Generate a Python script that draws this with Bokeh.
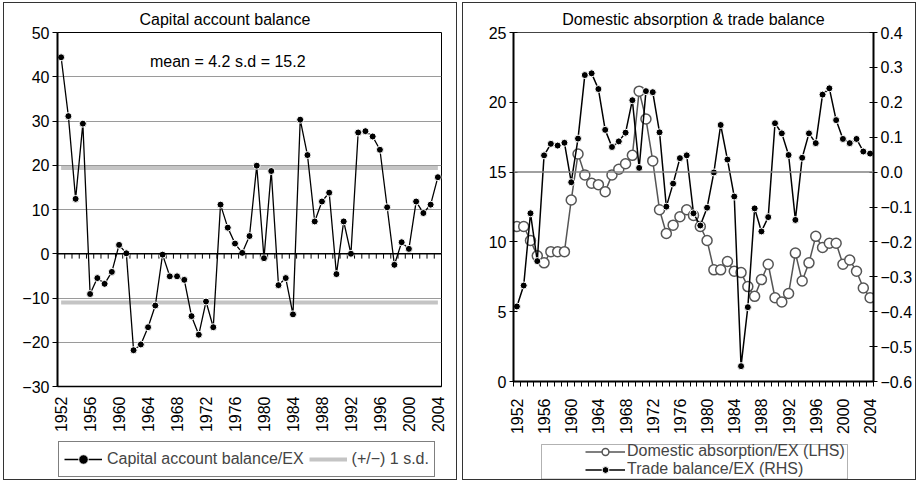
import math
from bokeh.plotting import figure
from bokeh.layouts import row, column
from bokeh.models import (Range1d, LinearAxis, FixedTicker, Span, Label, Legend,
                          LegendItem, CustomJSTickFormatter, BoxAnnotation)
from bokeh.embed import file_html
from bokeh.resources import INLINE

# ---------------- data ----------------
years = list(range(1952, 2005))

capital_balance = [44.4, 31.1, 12.4, 29.4, -9.1, -5.5, -6.8, -4.1, 2.0, 0.1,
                   -21.8, -20.5, -16.6, -11.7, -0.2, -5.1, -5.1, -5.9,
                   -14.1, -18.3, -10.8, -16.6, 11.1, 5.9, 2.3, 0.2, 4.0, 19.9,
                   -1.0, 18.7, -7.1, -5.5, -13.7, 30.3, 22.3,
                   7.3, 11.8, 13.8, -4.6, 7.3, 0.0, 27.4, 27.7, 26.5, 23.5,
                   10.5, -2.5, 2.6, 1.1, 11.8, 9.2, 11.1, 17.3]

domestic_absorption = [11.1, 11.1, 10.1, 9.0, 8.5, 9.3, 9.3, 9.3, 13.0, 16.3,
                       14.8, 14.2, 14.1, 13.6, 14.8, 15.2, 15.6, 16.2,
                       20.8, 18.8, 15.8, 12.3, 10.6, 11.2, 11.8, 12.3, 11.9,
                       11.1, 10.1, 8.0, 8.0, 8.6, 7.9, 7.8, 6.8, 6.1,
                       7.3, 8.4, 6.0, 5.7, 6.3, 9.2, 7.2, 8.5, 10.4, 9.6,
                       9.9, 9.9, 8.4, 8.7, 7.9, 6.7, 6.0]

trade_balance = [-0.385, -0.325, -0.118, -0.255, 0.048, 0.081, 0.076, 0.084,
                 -0.029, 0.096, 0.278, 0.283, 0.238, 0.121, 0.072, 0.088,
                 0.113, 0.206,
                 0.012, 0.232, 0.229, 0.114, -0.099, -0.033, 0.040, 0.048,
                 -0.118, -0.153, -0.102, -0.001, 0.135, 0.036, -0.070,
                 -0.556, -0.387, -0.104,
                 -0.170, -0.129, 0.140, 0.111, 0.049, -0.137, 0.041, 0.111,
                 0.083, 0.222, 0.240, 0.149, 0.095, 0.083, 0.095, 0.059, 0.053]

cap_mean = 4.2
cap_sd = 15.2

year_ticks = list(range(1952, 2005, 4))
cap_ticks = [-30, -20, -10, 0, 10, 20, 30, 40, 50]
abs_ticks = [0, 5, 10, 15, 20, 25]
trade_ticks = [-0.6, -0.5, -0.4, -0.3, -0.2, -0.1, 0.0, 0.1, 0.2, 0.3, 0.4]
abs_zero_ref = 15  # LHS value aligned with trade balance = 0

# ---------------- style ----------------
FONT = "Liberation Sans"
TICK_FS = "16px"
W = 452
H_MAIN = 434
H_LEG = 42
boundaries = [y - 0.5 for y in years] + [years[-1] + 0.5]

int_fmt = CustomJSTickFormatter(
    code="return tick < 0 ? '\\u2212' + Math.abs(tick).toFixed(0) : tick.toFixed(0);")
dec_fmt = CustomJSTickFormatter(
    code="const v = Math.round(tick*10)/10; return v < -1e-9 ? '\\u2212' + Math.abs(v).toFixed(1) : Math.abs(v).toFixed(1);")


def base_fig(title, y_range, mbl, mbr, mbt, mbb):
    p = figure(width=W, height=H_MAIN,
               x_range=Range1d(years[0] - 0.5, years[-1] + 0.5),
               y_range=y_range, title=title,
               output_backend="svg", toolbar_location=None,
               min_border_left=mbl, min_border_right=mbr,
               min_border_top=mbt, min_border_bottom=mbb)
    p.background_fill_color = "white"
    p.border_fill_color = "white"
    p.outline_line_color = "black"
    p.outline_line_width = 1
    p.title.text_font = FONT
    p.title.text_font_size = "16px"
    p.title.text_font_style = "normal"
    p.title.text_color = "black"
    return p


def legend_fig(frame_left, frame_right):
    # legend strip whose frame matches the chart frame above it;
    # its x range is expressed in canvas pixels so key boxes can be placed exactly
    f = figure(width=W, height=H_LEG, x_range=Range1d(frame_left, frame_right),
               y_range=Range1d(0, H_LEG),
               x_axis_type=None, y_axis_type=None, output_backend="svg",
               toolbar_location=None, min_border_left=frame_left,
               min_border_right=W - frame_right, min_border_top=0, min_border_bottom=0)
    f.grid.visible = False
    f.outline_line_color = None
    f.background_fill_color = "white"
    f.border_fill_color = "white"
    return f


def style_axis(ax):
    ax.major_label_text_font = FONT
    ax.major_label_text_font_size = TICK_FS
    ax.major_label_text_color = "black"
    ax.axis_line_color = "black"


# ================= left panel =================
L1, R1 = 53, 15
p1 = base_fig("Capital account balance", Range1d(cap_ticks[0], cap_ticks[-1]),
              L1, R1, 29, 51)
p1.title.align = "left"
p1.title.offset = 82
p1.xgrid.visible = False
p1.ygrid.ticker = FixedTicker(ticks=cap_ticks)
p1.ygrid.grid_line_color = "#9a9a9a"
p1.ygrid.grid_line_width = 1

ya = p1.yaxis[0]
ya.ticker = FixedTicker(ticks=cap_ticks)
ya.formatter = int_fmt
ya.major_tick_out = 5
ya.major_tick_in = 0
ya.minor_tick_line_color = None
ya.axis_line_width = 2
ya.major_label_standoff = 3
style_axis(ya)

xa = p1.xaxis[0]
xa.ticker = FixedTicker(ticks=year_ticks)
xa.major_label_orientation = math.pi / 2
xa.major_tick_out = 0
xa.major_tick_in = 0
xa.major_tick_line_color = None
xa.minor_tick_line_color = None
xa.axis_line_width = 1.5
xa.major_label_standoff = 10
style_axis(xa)

p1.segment(x0=[years[0], years[0]], x1=[years[-1], years[-1]],
           y0=[cap_mean + cap_sd, cap_mean - cap_sd],
           y1=[cap_mean + cap_sd, cap_mean - cap_sd],
           line_color="#c4c4c4", line_width=4)
p1.add_layout(Span(location=0, dimension="width", line_color="black", line_width=1.5))
p1.segment(x0=boundaries, x1=boundaries, y0=[0] * len(boundaries),
           y1=[-1.1] * len(boundaries), line_color="black", line_width=1)
p1.line(years, capital_balance, line_color="black", line_width=1.3)
p1.scatter(years, capital_balance, size=7, fill_color="black",
           line_color="white", line_width=1)

p1.add_layout(Label(x=1975, y=43.5, text=f"mean = {cap_mean} s.d = {cap_sd}",
                    text_align="center", text_baseline="middle",
                    text_font=FONT, text_font_size="16px", text_color="black"))

# legend strip for left panel (key glyphs get one data point lying outside the strip's range)
lf1 = legend_fig(L1, W - R1)
k_cap_line = lf1.line(x=years[:1], y=capital_balance[:1], line_color="black", line_width=1.3)
k_cap_pts = lf1.scatter(x=years[:1], y=capital_balance[:1], size=7, fill_color="black",
                        line_color="white", line_width=1)
k_sd = lf1.segment(x0=years[:1], y0=[cap_mean + cap_sd], x1=years[-1:], y1=[cap_mean + cap_sd],
                   line_color="#c4c4c4", line_width=4)
leg1 = Legend(items=[LegendItem(label="Capital account balance/EX", renderers=[k_cap_line, k_cap_pts]),
                     LegendItem(label="(+/\u2212) 1 s.d.", renderers=[k_sd])],
              orientation="horizontal", location=(1, 2), margin=0, padding=5,
              spacing=5, glyph_width=38, glyph_height=24, label_height=24,
              label_standoff=5, label_text_font=FONT, label_text_font_size="16px",
              border_line_color="black", border_line_width=1,
              background_fill_color="white", background_fill_alpha=1)
lf1.add_layout(leg1)

# ================= right panel =================
L2, R2 = 50, 42
p2 = base_fig("Domestic absorption & trade balance", Range1d(abs_ticks[0], abs_ticks[-1]),
              L2, R2, 29, 50)
p2.title.align = "center"
p2.grid.visible = False
p2.outline_line_color = "#444444"
p2.extra_y_ranges = {"tb": Range1d(trade_ticks[0], trade_ticks[-1])}

la = p2.yaxis[0]
la.ticker = FixedTicker(ticks=abs_ticks)
la.formatter = int_fmt
la.major_tick_out = 4
la.major_tick_in = 4
la.minor_tick_line_color = None
la.axis_line_width = 2
la.major_label_standoff = 3
style_axis(la)

ra = LinearAxis(y_range_name="tb", ticker=FixedTicker(ticks=trade_ticks),
                formatter=dec_fmt)
ra.major_tick_out = 4
ra.major_tick_in = 4
ra.minor_tick_line_color = None
ra.axis_line_width = 2
ra.major_label_standoff = 3
style_axis(ra)
p2.add_layout(ra, "right")

xb = p2.xaxis[0]
xb.ticker = FixedTicker(ticks=year_ticks, minor_ticks=boundaries)
xb.major_label_orientation = math.pi / 2
xb.major_tick_out = 0
xb.major_tick_in = 0
xb.major_tick_line_color = None
xb.minor_tick_out = 5
xb.minor_tick_in = 0
xb.minor_tick_line_color = "black"
xb.axis_line_width = 2
xb.major_label_standoff = 12
style_axis(xb)

p2.add_layout(Span(location=abs_zero_ref, dimension="width",
                   line_color="#808080", line_width=1.5))

p2.line(years, domestic_absorption, line_color="#555555", line_width=1.5)
p2.scatter(years, domestic_absorption, size=10, fill_color="white",
           line_color="#555555", line_width=1.5)
p2.line(years, trade_balance, y_range_name="tb", line_color="black", line_width=1.5)
p2.scatter(years, trade_balance, y_range_name="tb", size=7,
           fill_color="black", line_color="white", line_width=1)

# legend strip for right panel
lf2 = legend_fig(L2, W - R2)
k_abs_line = lf2.line(x=years[:1], y=domestic_absorption[:1], line_color="#555555", line_width=1.5)
k_abs_pts = lf2.scatter(x=years[:1], y=domestic_absorption[:1], size=10, fill_color="white",
                        line_color="#555555", line_width=1.5)
k_tb_line = lf2.line(x=years[:1], y=trade_balance[:1], line_color="black", line_width=1.5)
k_tb_pts = lf2.scatter(x=years[:1], y=trade_balance[:1], size=7, fill_color="black",
                       line_color="white", line_width=1)
lf2.add_layout(BoxAnnotation(left=78, right=384, bottom=0.5, top=35, fill_alpha=0,
                             line_color="black", line_width=1))
leg2 = Legend(items=[LegendItem(label="Domestic absorption/EX (LHS)", renderers=[k_abs_line, k_abs_pts]),
                     LegendItem(label="Trade balance/EX (RHS)", renderers=[k_tb_line, k_tb_pts])],
              orientation="vertical", location=(72, 1), margin=0, padding=0,
              spacing=0, glyph_width=40, glyph_height=17, label_height=17,
              label_standoff=2, label_text_font=FONT, label_text_font_size="16px",
              border_line_color=None, background_fill_alpha=0)
lf2.add_layout(leg2)

col1 = column(p1, lf1, styles={"border": "1px solid #333333", "margin-top": "2px",
                               "margin-left": "3px"})
col2 = column(p2, lf2, styles={"border": "1px solid #333333", "margin-top": "2px",
                               "margin-left": "5px"})
layout = row(col1, col2)
with open("out.html", "w", encoding="utf-8") as f:
    f.write(file_html(layout, INLINE))
